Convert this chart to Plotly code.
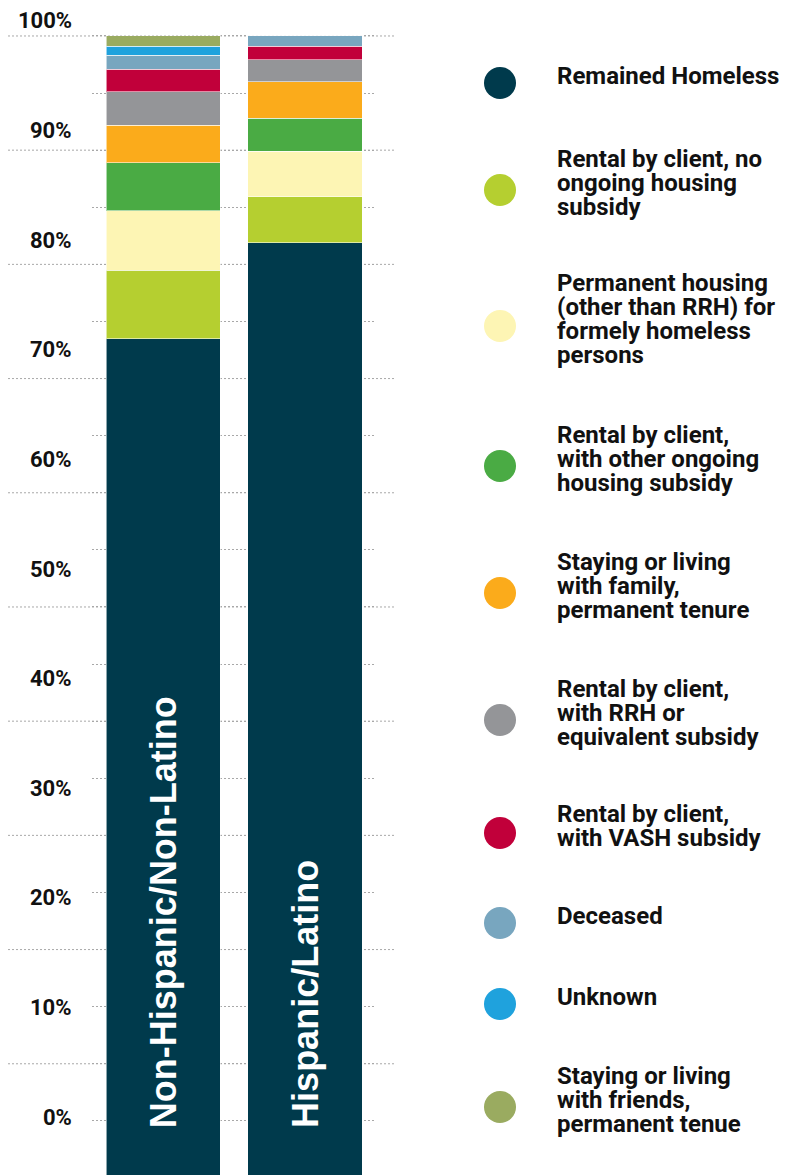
import plotly.graph_objects as go

W, H = 805, 1175

categories = ["Non-Hispanic/Non-Latino", "Hispanic/Latino"]

series_names = [
    "Remained Homeless",
    "Rental by client, no ongoing housing subsidy",
    "Permanent housing (other than RRH) for formely homeless persons",
    "Rental by client, with other ongoing housing subsidy",
    "Staying or living with family, permanent tenure",
    "Rental by client, with RRH or equivalent subsidy",
    "Rental by client, with VASH subsidy",
    "Deceased",
    "Unknown",
    "Staying or living with friends, permanent tenue",
]

legend_lines = [
    ["Remained Homeless"],
    ["Rental by client, no", "ongoing housing", "subsidy"],
    ["Permanent housing", "(other than RRH) for", "formely homeless", "persons"],
    ["Rental by client,", "with other ongoing", "housing subsidy"],
    ["Staying or living", "with family,", "permanent tenure"],
    ["Rental by client,", "with RRH or", "equivalent subsidy"],
    ["Rental by client,", "with VASH subsidy"],
    ["Deceased"],
    ["Unknown"],
    ["Staying or living", "with friends,", "permanent tenue"],
]

non_hispanic = [73.5, 6.0, 5.2, 4.2, 3.3, 2.9, 2.0, 1.2, 0.8, 0.9]
hispanic = [81.9, 4.0, 4.0, 2.9, 3.2, 1.9, 1.2, 0.9, 0.0, 0.0]

colors = ["#003a4c", "#b5cf30", "#fdf5b4", "#4aab44", "#fbab1b",
          "#949598", "#c1003a", "#78a6bf", "#1fa2dd", "#9aab60"]

tick_vals = [0, 10, 20, 30, 40, 50, 60, 70, 80, 90, 100]
tick_text = ["0%", "10%", "20%", "30%", "40%", "50%", "60%", "70%", "80%", "90%", "100%"]

long_grid_vals = [10, 20, 30, 40, 50, 60, 70, 80, 90, 100]

FONT = "Roboto, 'DejaVu Sans', sans-serif"
BAR_FONT = "'Liberation Sans', Arial, sans-serif"

fig = go.Figure()
for i, name in enumerate(series_names):
    fig.add_trace(go.Bar(
        x=categories,
        y=[non_hispanic[i], hispanic[i]],
        name=name,
        marker=dict(color=colors[i], line=dict(color="rgba(255,255,255,0.55)", width=1)),
        hoverinfo="name+y",
    ))

shapes = []
for v in long_grid_vals:
    shapes.append(dict(type="line", xref="paper", yref="y", x0=8 / W, x1=395 / W,
                       y0=v, y1=v, layer="below",
                       line=dict(color="#a8a8a8", width=1, dash="2px,2px")))

annotations = []
# category labels inside bars
for c in categories:
    annotations.append(dict(x=c, y=4.2, xref="x", yref="y", text=c, showarrow=False,
                            textangle=-90, yanchor="bottom", xanchor="center",
                            font=dict(family=BAR_FONT, size=36, color="white", weight="bold")))

# percentage labels of the left scale (the infographic spaces them on their own)
LABEL_TOP = 21      # pixel centre of the 100% label
LABEL_STEP = 10.96  # pixels per percentage point for the labels
for v, t in zip(tick_vals, tick_text):
    py = LABEL_TOP + (100 - v) * LABEL_STEP
    annotations.append(dict(x=74 / W, y=1 - py / H, xref="paper", yref="paper",
                            text=t, showarrow=False, xanchor="right", yanchor="middle",
                            font=dict(family=FONT, size=22, color="#111111", weight="bold")))

# custom legend
legend_centers = [83, 190, 326, 466, 593, 720, 833, 923, 1004, 1107]
LINE_H = 24
for k, lines in enumerate(legend_lines):
    cy = legend_centers[k]
    r = 16
    shapes.append(dict(type="circle", xref="paper", yref="paper",
                       x0=(500 - r) / W, x1=(500 + r) / W,
                       y0=1 - (cy + r) / H, y1=1 - (cy - r) / H,
                       fillcolor=colors[k], line=dict(width=0)))
    n = len(lines)
    for j, ln in enumerate(lines):
        ly = cy - 7 + (j - (n - 1) / 2) * LINE_H
        annotations.append(dict(x=555 / W, y=1 - ly / H, xref="paper", yref="paper",
                                text=ln, showarrow=False, xanchor="left", yanchor="middle",
                                font=dict(family=FONT, size=24, color="#111111", weight="bold")))

x0 = 92.25 / W
x1 = 375.75 / W

fig.update_layout(
    width=W, height=H,
    margin=dict(l=0, r=0, t=0, b=0),
    paper_bgcolor="white", plot_bgcolor="white",
    barmode="stack", bargap=0.194,
    showlegend=False,
    shapes=shapes,
    annotations=annotations,
    xaxis=dict(domain=[x0, x1], range=[-0.5, 1.5], showticklabels=False,
               showgrid=False, zeroline=False, showline=False, ticks=""),
    yaxis=dict(range=[0.26, 103.15], dtick=5, tick0=0, showgrid=True,
               gridcolor="#a8a8a8", griddash="2px,2px", gridwidth=1,
               showticklabels=False, zeroline=False, showline=False, ticks=""),
)

fig.write_html("out.html")
